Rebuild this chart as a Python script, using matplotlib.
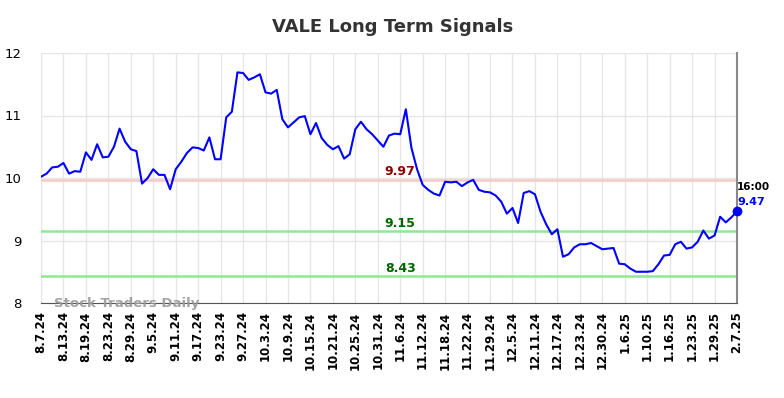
import numpy as np
import matplotlib.pyplot as plt

# closing prices, one per trading day, 8.7.24 .. 2.7.25
prices = [10.02, 10.07, 10.17, 10.18, 10.24, 10.07, 10.11, 10.10, 10.41, 10.29,
          10.54, 10.33, 10.34, 10.50, 10.79, 10.58, 10.46, 10.43, 9.91, 10.00,
          10.14, 10.05, 10.05, 9.82, 10.14, 10.26, 10.40, 10.49, 10.48, 10.44,
          10.65, 10.30, 10.30, 10.97, 11.06, 11.69, 11.68, 11.57, 11.61, 11.66,
          11.37, 11.35, 11.41, 10.94, 10.81, 10.89, 10.97, 10.99, 10.70, 10.88,
          10.64, 10.53, 10.46, 10.51, 10.31, 10.38, 10.78, 10.90, 10.78, 10.70,
          10.60, 10.50, 10.68, 10.71, 10.70, 11.10, 10.48, 10.14, 9.89, 9.81,
          9.75, 9.72, 9.94, 9.93, 9.94, 9.87, 9.93, 9.97, 9.81, 9.78,
          9.77, 9.72, 9.62, 9.43, 9.52, 9.28, 9.76, 9.79, 9.74, 9.46,
          9.26, 9.10, 9.18, 8.74, 8.78, 8.89, 8.94, 8.94, 8.96, 8.91,
          8.86, 8.87, 8.88, 8.63, 8.62, 8.55, 8.50, 8.50, 8.50, 8.51,
          8.62, 8.76, 8.77, 8.94, 8.98, 8.87, 8.89, 8.98, 9.16, 9.03,
          9.08, 9.38, 9.29, 9.37, 9.47]

tick_labels = ['8.7.24', '8.13.24', '8.19.24', '8.23.24', '8.29.24', '9.5.24',
               '9.11.24', '9.17.24', '9.23.24', '9.27.24', '10.3.24', '10.9.24',
               '10.15.24', '10.21.24', '10.25.24', '10.31.24', '11.6.24',
               '11.12.24', '11.18.24', '11.22.24', '11.29.24', '12.5.24',
               '12.11.24', '12.17.24', '12.23.24', '12.30.24', '1.6.25',
               '1.10.25', '1.16.25', '1.23.25', '1.29.25', '2.7.25']

resistance = 9.97
supports = [9.15, 8.43]
last_time = '16:00'

x = np.arange(len(prices))
ticks = np.arange(0, len(prices), 4)

fig = plt.figure(figsize=(7.84, 3.98), dpi=100)
ax = fig.add_axes([41 / 784, 95 / 398, 696 / 784, 250 / 398])

ax.axhline(resistance, color='#f7c8c8', linewidth=1.8, zorder=1)
for s in supports:
    ax.axhline(s, color='#90e890', linewidth=1.8, zorder=1)

ax.plot(x, prices, color='#0000ff', linewidth=1.5, zorder=3)
ax.plot(x[-1], prices[-1], 'o', color='#0000ff', markersize=6, zorder=4,
        clip_on=False)

mid = 64
ax.text(mid, resistance + 0.03, f'{resistance:.2f}', color='#8b0000',
        fontsize=9, fontweight='bold', ha='center', va='bottom')
for s in supports:
    ax.text(mid, s + 0.02, f'{s:.2f}', color='#006400',
            fontsize=9, fontweight='bold', ha='center', va='bottom')

ax.text(x[-1], prices[-1] + 0.3, last_time, color='black', fontsize=7.5,
        fontweight='bold', ha='left', va='bottom')
ax.text(x[-1], prices[-1] + 0.07, f'{prices[-1]:.2f}', color='#0000ff',
        fontsize=8, fontweight='bold', ha='left', va='bottom')

ax.text(2.3, 8.0, 'Stock Traders Daily', color='#999999', fontsize=9.5,
        fontweight='bold', ha='left', va='center', alpha=0.9, zorder=5)

ax.set_xlim(0, len(prices) - 1)
ax.set_ylim(8, 12)
ax.set_yticks([8, 9, 10, 11, 12])
ax.set_xticks(ticks)
ax.set_xticklabels(tick_labels, rotation=90, fontsize=8.5, fontweight='bold')
ax.tick_params(axis='y', labelsize=9.5, length=0, pad=14)
ax.tick_params(axis='x', length=0, pad=6)
ax.grid(True, color='#e6e6e6', linewidth=1)
ax.set_axisbelow(True)

for side in ['top', 'left']:
    ax.spines[side].set_visible(False)
ax.spines['bottom'].set_color('#555555')
ax.spines['right'].set_color('#888888')
ax.spines['right'].set_linewidth(1.5)

fig.text(393 / 784, 1 - 27 / 398, 'VALE Long Term Signals', ha='center',
         va='center', fontsize=13, fontweight='bold', color='#333333')

plt.savefig('out.png', dpi=100)
